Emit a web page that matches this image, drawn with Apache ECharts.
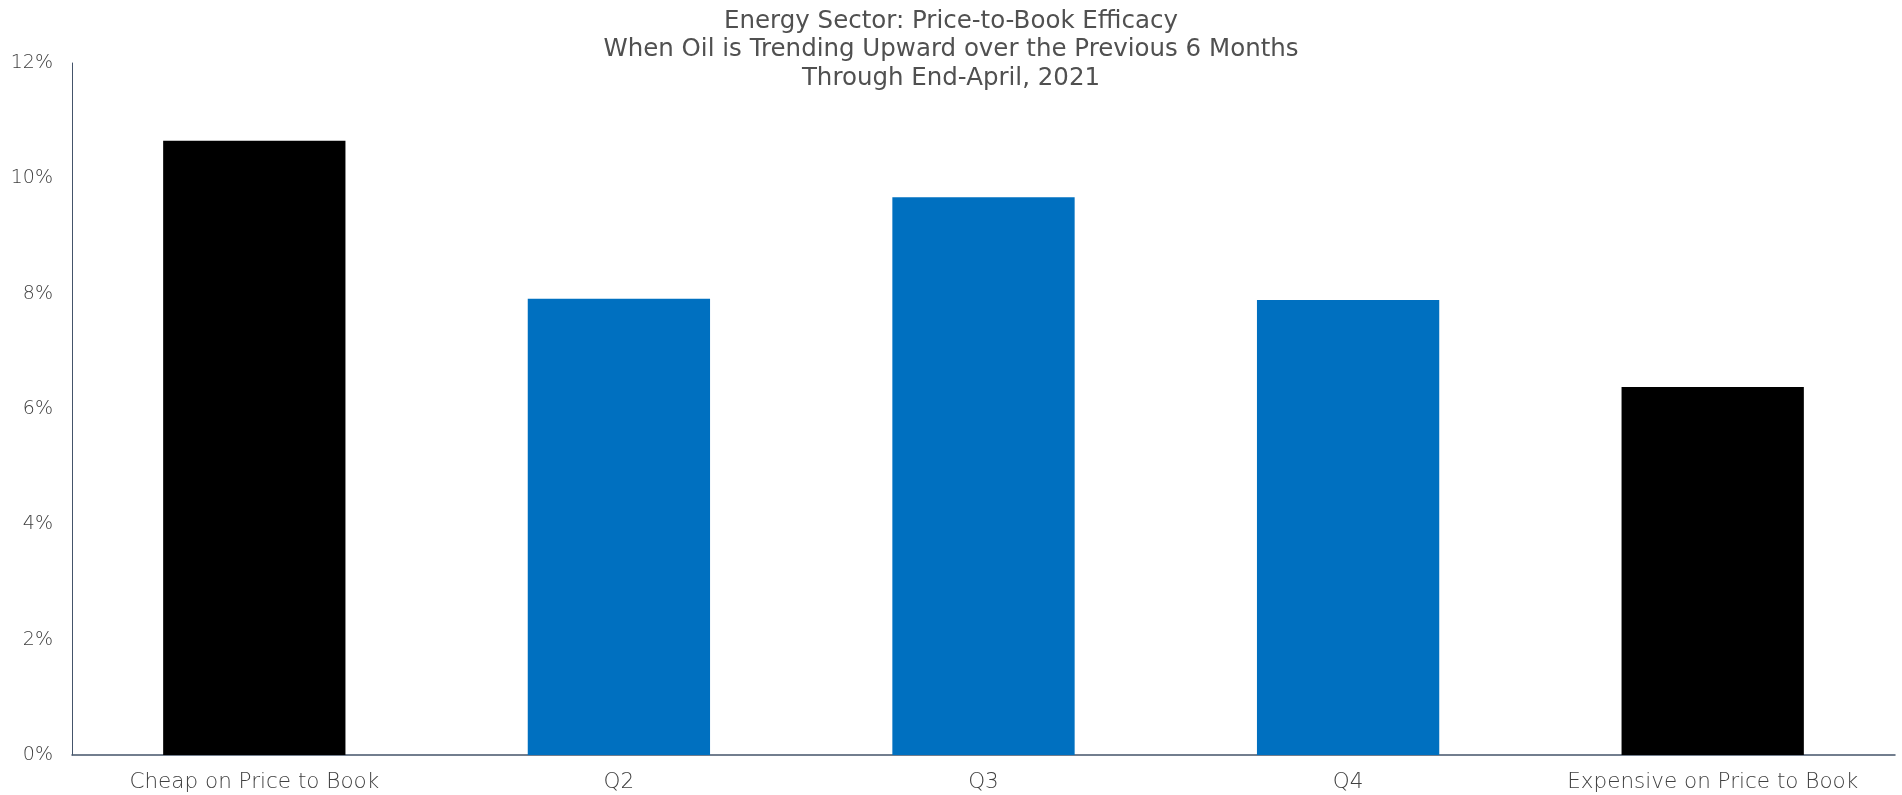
<!DOCTYPE html>
<html><head><meta charset="utf-8">
<script src="https://cdn.jsdelivr.net/npm/echarts@6/dist/echarts.min.js"></script>
<style>html,body{margin:0;padding:0;background:#fff}#c{width:1902px;height:795px}</style>
</head><body><div id="c"></div>
<script>
const categories = ['Cheap on Price to Book', 'Q2', 'Q3', 'Q4', 'Expensive on Price to Book'];
const values = [10.65, 7.91, 9.67, 7.89, 6.38];
const barColors = ['#000000', '#0070C0', '#0070C0', '#0070C0', '#000000'];
const titleLines = ['Energy Sector: Price-to-Book Efficacy', 'When Oil is Trending Upward over the Previous 6 Months', 'Through End-April, 2021'];
const chart = echarts.init(document.getElementById('c'));
chart.setOption({
  animation: false,
  title: {
    text: titleLines.join('\n'), left: 'center', top: 2,
    textStyle: { fontFamily: 'DejaVu Sans', fontSize: 24.5, fontWeight: 'normal', color: '#505050', lineHeight: 28.5 }
  },
  grid: { left: 72, right: 7, top: 63, bottom: 40 },
  xAxis: {
    type: 'category', data: categories,
    axisLine: { lineStyle: { color: '#44546A', width: 1.5 } },
    axisTick: { show: false },
    axisLabel: { interval: 0, fontFamily: 'DejaVu Sans', fontSize: 21.5, fontWeight: 200, color: '#404040', margin: 16 }
  },
  yAxis: {
    type: 'value', min: 0, max: 12, interval: 2,
    axisLine: { show: true, lineStyle: { color: '#44546A', width: 1 } },
    axisTick: { show: false },
    splitLine: { show: false },
    axisLabel: { fontFamily: 'DejaVu Sans', fontSize: 19, fontWeight: 200, color: '#404040', margin: 19, formatter: '{value}%' }
  },
  series: [{
    type: 'bar', barWidth: '50%',
    data: values.map((v, i) => ({ value: v, itemStyle: { color: barColors[i] } }))
  }]
});
</script></body></html>
